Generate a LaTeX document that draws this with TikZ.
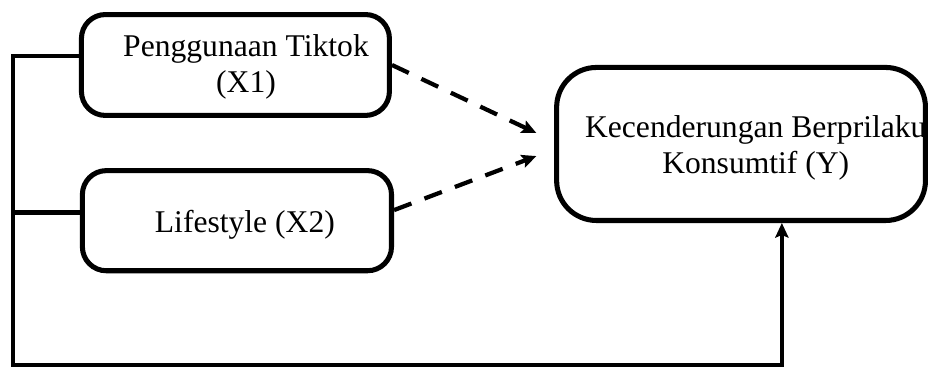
\documentclass[tikz,border=0pt]{standalone}
\usepackage{fontspec}
\setmainfont{Liberation Serif}
\usetikzlibrary{arrows.meta}

\tikzset{
	varbox/.style={draw, rectangle, line width=3.8pt, rounded corners=18pt},
	vartext/.style={align=center, font=\fontsize{23.8pt}{27pt}\selectfont},
	link/.style={line width=3.3pt},
	effect/.style={line width=3.2pt, dash pattern=on 14pt off 10.5pt},
}

\begin{document}
\begin{tikzpicture}[>={Stealth[length=11pt, width=10pt, inset=2pt]}]

	\useasboundingbox (0,0) rectangle (24.61,9.74);

	% Penggunaan Tiktok
	\draw (6.23,8.02) node[varbox, minimum width=8.15cm, minimum height=2.67cm] (x1) {} ;
	% Lifestyle
	\draw (6.27,3.90) node[varbox, minimum width=8.18cm, minimum height=2.65cm] (x2) {} ;
	% Konsumtif
	\draw (19.61,5.93) node[varbox, rounded corners=30pt, minimum width=9.76cm, minimum height=4.05cm] (y) {} ;

	\draw (6.51,7.98) node[vartext] (x1text) {Penggunaan Tiktok\\(X1)};
	\draw (6.48,3.80) node[vartext] (x2text) {Lifestyle (X2)};
	\draw (20.0,5.83) node[vartext] (ytext) {Kecenderungan Berprilaku\\Konsumtif (Y)};

	\coordinate (x1in) at ([yshift=0.24cm]x1.west);
	\coordinate (x2in) at ([yshift=0.22cm]x2.west);
	\coordinate (corner) at (0.34,0.08);

	\draw[effect, ->] (x1.east) -- ([xshift=-0.47cm, yshift=0.29cm]y.west);
	\draw[effect, ->] ([yshift=0.28cm]x2.east) -- ([xshift=-0.47cm, yshift=-0.32cm]y.west);
	\draw[link, ->] (x1in) -| (corner) -| ([xshift=1.08cm]y.south);
	\draw[link] (x2in) -- (x2in -| corner);

\end{tikzpicture}
\end{document}
